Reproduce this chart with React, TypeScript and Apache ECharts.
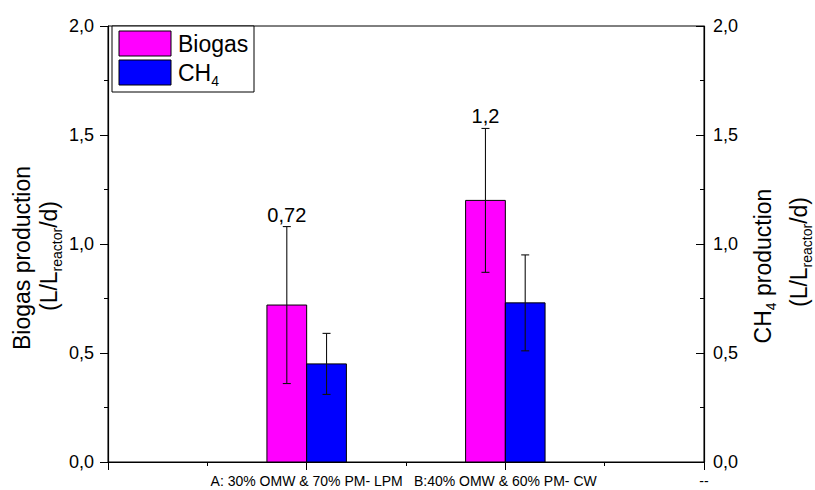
import { useEffect, useRef } from 'react';
import * as echarts from 'echarts';

// ---- data ----
const categories = ['', 'A: 30% OMW & 70% PM- LPM', 'B:40% OMW & 60% PM- CW', '--'];
const groupPositions = [1, 2];
const biogas = [0.72, 1.2];
const biogasErr = [0.36, 0.33];
const ch4 = [0.45, 0.73];
const ch4Err = [0.14, 0.22];
const biogasLabels = ['0,72', '1,2'];
const legendNames = ['Biogas', 'CH4'];

const FONT = "'Liberation Sans', Arial, Helvetica, sans-serif";
const PINK = '#FF00FF';
const BLUE = '#0000FF';

export default function App() {
  const ref = useRef<HTMLDivElement>(null);
  useEffect(() => {
    const chart = echarts.init(ref.current!, null, { renderer: 'svg' });
    const HALF = 0.2;
    const fmt = (v: number) => v.toFixed(1).replace('.', ',');

    const makeSeries = (
      name: string,
      values: number[],
      errs: number[],
      color: string,
      offset: number,
      labels?: string[]
    ) => ({
      type: 'custom',
      name,
      xAxisIndex: 0,
      yAxisIndex: 0,
      clip: false,
      z: 5,
      data: values.map((v, i) => [groupPositions[i], v, errs[i]]),
      encode: { x: 0, y: 1 },
      renderItem: (params: any, api: any) => {
        const cx = api.value(0);
        const v = api.value(1);
        const e = api.value(2);
        const x0 = cx + offset * HALF;
        const x1 = x0 + HALF;
        const tl = api.coord([x0, v]);
        const br = api.coord([x1, 0]);
        const mid = (tl[0] + br[0]) / 2;
        const top = api.coord([x0, v + e])[1];
        const bot = api.coord([x0, v - e])[1];
        const ls = { stroke: '#111', lineWidth: 1.1 };
        const children: any[] = [
          {
            type: 'rect',
            shape: { x: tl[0], y: tl[1], width: br[0] - tl[0], height: br[1] - tl[1] },
            style: { fill: color, stroke: '#000', lineWidth: 1 },
          },
          { type: 'line', shape: { x1: mid, y1: top, x2: mid, y2: bot }, style: ls },
          { type: 'line', shape: { x1: mid - 4, y1: top, x2: mid + 4, y2: top }, style: ls },
          { type: 'line', shape: { x1: mid - 4, y1: bot, x2: mid + 4, y2: bot }, style: ls },
        ];
        if (labels) {
          children.push({
            type: 'text',
            x: mid,
            y: top - 12,
            style: {
              text: labels[params.dataIndex],
              fill: '#000',
              font: `20px ${FONT}`,
              align: 'center',
              verticalAlign: 'middle',
            },
          });
        }
        return { type: 'group', children };
      },
    });

    const sub = (fs: number) => ({
      m: { fontSize: fs, lineHeight: 30, fontFamily: FONT, fill: '#000' },
      s: { fontSize: 14, lineHeight: 14, verticalAlign: 'bottom', fontFamily: FONT, fill: '#000' },
    });

    const option: any = {
      animation: false,
      backgroundColor: '#fff',
      textStyle: { fontFamily: FONT, color: '#000' },
      grid: {
        left: 108,
        right: 111,
        top: 26,
        bottom: 28,
        show: true,
        borderColor: '#000',
        borderWidth: 1,
        backgroundColor: 'transparent',
      },
      xAxis: {
        type: 'value',
        min: 0,
        max: 3,
        interval: 1,
        axisLine: { show: true, lineStyle: { color: '#000', width: 1.2 } },
        axisTick: { show: true, length: 8, lineStyle: { color: '#000' } },
        minorTick: { show: true, splitNumber: 2, length: 4, lineStyle: { color: '#000' } },
        splitLine: { show: false },
        axisLabel: {
          show: true,
          showMinLabel: true,
          showMaxLabel: true,
          margin: 12,
          fontSize: 14,
          color: '#000',
          fontFamily: FONT,
          formatter: (v: number) => categories[Math.round(v)] ?? '',
        },
      },
      yAxis: [
        {
          type: 'value',
          position: 'left',
          min: 0,
          max: 2,
          interval: 0.5,
          axisLine: { show: true, lineStyle: { color: '#000', width: 1.2 } },
          axisTick: { show: true, length: 8, lineStyle: { color: '#000' } },
          minorTick: { show: true, splitNumber: 2, length: 4, lineStyle: { color: '#000' } },
          splitLine: { show: false },
          axisLabel: { fontSize: 18, color: '#000', margin: 14, fontFamily: FONT, formatter: fmt },
        },
        {
          type: 'value',
          position: 'right',
          min: 0,
          max: 2,
          interval: 0.5,
          axisLine: { show: true, lineStyle: { color: '#000', width: 1.2 } },
          axisTick: { show: true, inside: true, length: 8, lineStyle: { color: '#000' } },
          minorTick: { show: true, splitNumber: 2, length: 4, lineStyle: { color: '#000' } },
          splitLine: { show: false },
          axisLabel: { fontSize: 18, color: '#000', margin: 9, fontFamily: FONT, formatter: fmt },
        },
      ],
      series: [
        makeSeries(legendNames[0], biogas, biogasErr, PINK, -1, biogasLabels),
        makeSeries(legendNames[1], ch4, ch4Err, BLUE, 0),
      ],
      graphic: [
        {
          type: 'text',
          x: 22,
          y: 258,
          rotation: Math.PI / 2,
          style: { text: 'Biogas production', font: `23px ${FONT}`, fill: '#000', align: 'center', verticalAlign: 'middle' },
        },
        {
          type: 'text',
          x: 49,
          y: 256,
          rotation: Math.PI / 2,
          style: {
            text: '{m|(L/L}{s|reactor}{m|/d)}',
            rich: sub(23),
            align: 'center',
            verticalAlign: 'middle',
          },
        },
        {
          type: 'text',
          x: 763,
          y: 266,
          rotation: Math.PI / 2,
          style: {
            text: '{m|CH}{s|4}{m| production}',
            rich: sub(23),
            align: 'center',
            verticalAlign: 'middle',
          },
        },
        {
          type: 'text',
          x: 799,
          y: 252,
          rotation: Math.PI / 2,
          style: {
            text: '{m|(L/L}{s|reactor}{m|/d)}',
            rich: sub(23),
            align: 'center',
            verticalAlign: 'middle',
          },
        },
        {
          type: 'group',
          z: 100,
          children: [
            { type: 'rect', shape: { x: 112, y: 26, width: 142, height: 66 }, style: { fill: '#fff', stroke: '#000', lineWidth: 1 } },
            { type: 'rect', shape: { x: 119, y: 31, width: 52, height: 25 }, style: { fill: PINK, stroke: '#000', lineWidth: 1 } },
            { type: 'rect', shape: { x: 119, y: 60, width: 52, height: 25 }, style: { fill: BLUE, stroke: '#000', lineWidth: 1 } },
            {
              type: 'text',
              x: 178,
              y: 43.5,
              style: { text: legendNames[0], font: `23px ${FONT}`, fill: '#000', align: 'left', verticalAlign: 'middle' },
            },
            {
              type: 'text',
              x: 178,
              y: 72.5,
              style: {
                text: '{m|CH}{s|4}',
                rich: sub(23),
                align: 'left',
                verticalAlign: 'middle',
              },
            },
          ],
        },
      ],
    };

    chart.setOption(option);
    return () => chart.dispose();
  }, []);

  return (
    <div
      ref={ref}
      style={{ position: 'fixed', left: 0, top: 0, width: 815, height: 490, background: '#fff' }}
    />
  );
}
